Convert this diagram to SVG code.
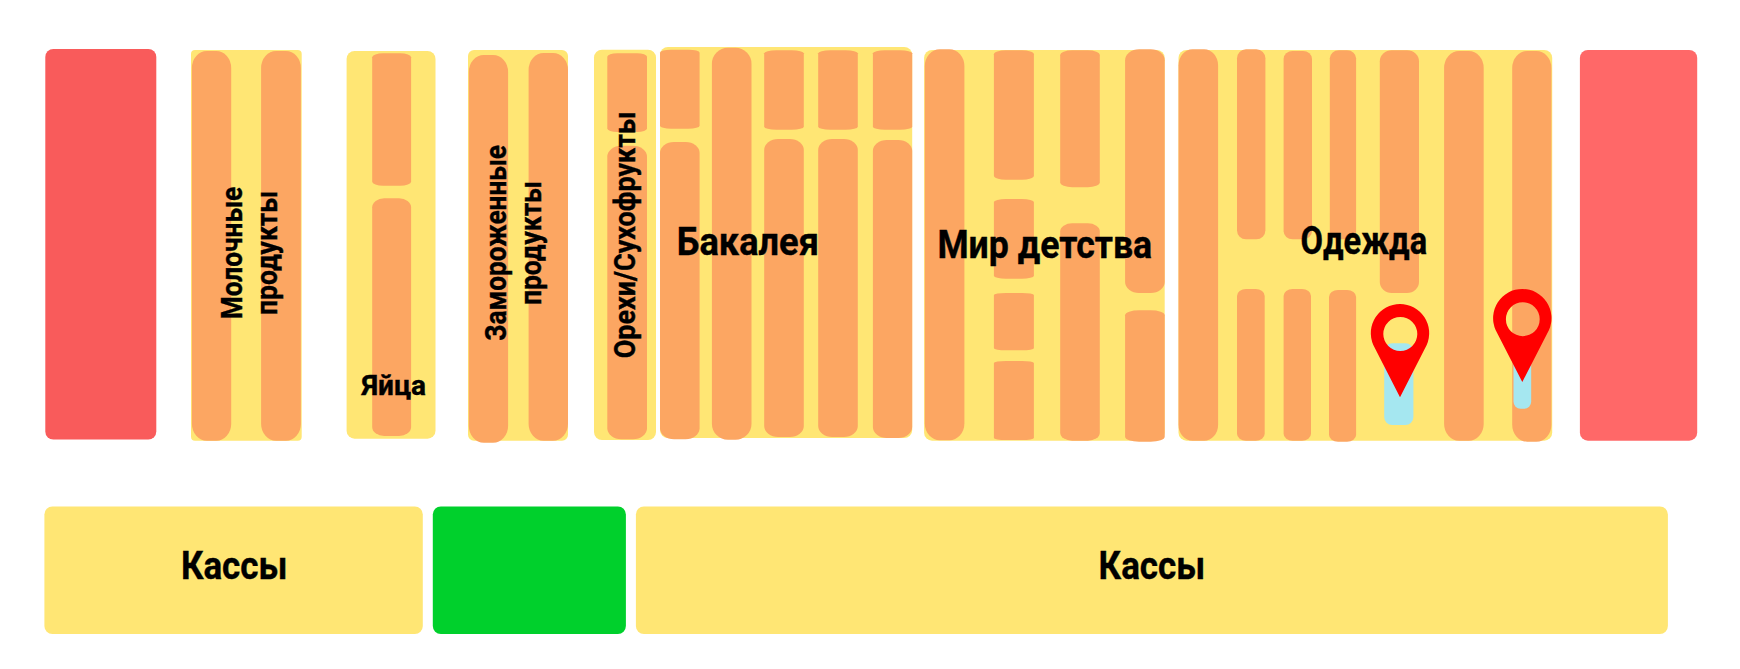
<svg xmlns="http://www.w3.org/2000/svg" width="1740" height="669" viewBox="0 0 1740 669">
<style>
.y{fill:#ffe674}
.o{fill:#fca662}
.b{fill:#a5e7f0}
.g{fill:#00d02c}
.pin{fill:#ff0000;fill-rule:evenodd}
text{font-family:"Roboto","Liberation Sans",sans-serif;font-weight:700;fill:#000;stroke:#000;stroke-width:.4px}
.s{font-size:30px}
.m{font-size:27px}
.l{font-size:38px}
</style>
<rect width="1740" height="669" fill="#fff"/>
<g id="wall-left"><rect x="45.3" y="49" width="111" height="390.5" rx="8" fill="#f95b5b"/></g>
<g id="dairy">
<rect class="y" x="191" y="50" width="110.7" height="390.7" rx="4"/>
<rect class="o" x="191.9" y="51" width="39.3" height="389.7" rx="15" ry="17"/>
<rect class="o" x="261.1" y="51" width="39.8" height="389.7" rx="15" ry="17"/>
<text class="s" transform="translate(242.3 319.3) rotate(-90)" textLength="132.6" lengthAdjust="spacingAndGlyphs">Молочные</text>
<text class="s" transform="translate(276.9 315) rotate(-90)" textLength="124.3" lengthAdjust="spacingAndGlyphs">продукты</text>
</g>
<g id="eggs">
<rect class="y" x="346.6" y="51" width="88.9" height="387.7" rx="8"/>
<rect class="o" x="372.2" y="53.3" width="38.9" height="132.4" rx="11" ry="4"/>
<rect class="o" x="372.2" y="198.3" width="38.9" height="237.7" rx="12" ry="9"/>
<text class="m" x="361.5" y="394.5" textLength="64.5" lengthAdjust="spacingAndGlyphs">Яйца</text>
</g>
<g id="frozen">
<rect class="y" x="468" y="50" width="100" height="390.7" rx="6"/>
<rect class="o" x="468.8" y="55" width="39.3" height="387.7" rx="15" ry="17"/>
<rect class="o" x="528.6" y="53" width="39.4" height="387.7" rx="15" ry="17"/>
<text class="s" transform="translate(506.4 340.7) rotate(-90)" textLength="195.7" lengthAdjust="spacingAndGlyphs">Замороженные</text>
<text class="s" transform="translate(541 305) rotate(-90)" textLength="124" lengthAdjust="spacingAndGlyphs">продукты</text>
</g>
<g id="nuts">
<rect class="y" x="594" y="49.7" width="62" height="390.3" rx="8"/>
<rect class="o" x="607.3" y="53.3" width="39.7" height="78.7" rx="10" ry="3.5"/>
<rect class="o" x="607.3" y="145.7" width="39.7" height="293.6" rx="14" ry="11"/>
<text class="s" transform="translate(635 358.3) rotate(-90)" textLength="246.6" lengthAdjust="spacingAndGlyphs">Орехи/Сухофрукты</text>
</g>
<g id="grocery">
<rect class="y" x="660" y="47" width="252.2" height="391" rx="8"/>
<rect class="o" x="660" y="49.7" width="39.6" height="79" rx="11" ry="3"/>
<rect class="o" x="660" y="142" width="39.6" height="297.3" rx="14" ry="11"/>
<rect class="o" x="711.9" y="47.7" width="39.6" height="392" rx="16" ry="16"/>
<rect class="o" x="764.2" y="50.3" width="39.6" height="79.4" rx="12" ry="3"/>
<rect class="o" x="764.2" y="139" width="39.6" height="298" rx="14" ry="11"/>
<rect class="o" x="818.2" y="50.3" width="39.6" height="79.4" rx="12" ry="3"/>
<rect class="o" x="818.2" y="139" width="39.6" height="298" rx="14" ry="11"/>
<rect class="o" x="872.9" y="50.3" width="39.3" height="79.4" rx="12" ry="3"/>
<rect class="o" x="872.9" y="140" width="39.3" height="298" rx="14" ry="11"/>
<text class="l" x="676.8" y="255" textLength="142.1" lengthAdjust="spacingAndGlyphs">Бакалея</text>
</g>
<g id="kids">
<rect class="y" x="924.1" y="50" width="240.6" height="390.7" rx="8"/>
<rect class="o" x="924.8" y="49.3" width="39.6" height="391" rx="15" ry="17"/>
<rect class="o" x="993.9" y="50.3" width="40" height="129.4" rx="12" ry="4"/>
<rect class="o" x="993.9" y="199" width="40" height="79.7" rx="12" ry="3"/>
<rect class="o" x="993.9" y="293" width="40" height="57.3" rx="12" ry="2"/>
<rect class="o" x="993.9" y="361" width="40" height="79" rx="12" ry="2"/>
<rect class="o" x="1060.2" y="50.3" width="39.6" height="137" rx="12" ry="5"/>
<rect class="o" x="1060.2" y="223.3" width="39.6" height="217.4" rx="12" ry="8"/>
<rect class="o" x="1125.1" y="49.3" width="39.6" height="243.7" rx="14" ry="11"/>
<rect class="o" x="1125.1" y="310.3" width="39.6" height="131.4" rx="14" ry="5"/>
<text class="l" x="937.4" y="257.7" textLength="214.7" lengthAdjust="spacingAndGlyphs">Мир детства</text>
</g>
<g id="clothes">
<rect class="y" x="1178.5" y="50" width="373.7" height="390.7" rx="8"/>
<rect class="o" x="1178.5" y="49.3" width="39.6" height="391.4" rx="14" ry="16"/>
<rect class="o" x="1237" y="49.3" width="28.4" height="190" rx="9" ry="9"/>
<rect class="o" x="1237" y="289" width="27.7" height="151.7" rx="9" ry="7"/>
<rect class="o" x="1283.6" y="51" width="28.4" height="188.3" rx="9" ry="8"/>
<rect class="o" x="1283.6" y="289" width="27.4" height="151.7" rx="9" ry="7"/>
<rect class="o" x="1329.8" y="50.3" width="26.3" height="189" rx="9" ry="8"/>
<rect class="o" x="1329" y="290" width="27.1" height="151.7" rx="9" ry="7"/>
<rect class="o" x="1379.8" y="50.3" width="39.2" height="242.7" rx="12" ry="11"/>
<rect class="o" x="1444.1" y="51" width="39.6" height="389.7" rx="15" ry="17"/>
<rect class="o" x="1512.2" y="51" width="39.2" height="390.7" rx="15" ry="17"/>
<rect class="b" x="1384.2" y="343.3" width="29.2" height="81.7" rx="8"/>
<rect class="b" x="1513.5" y="345" width="17.7" height="63.7" rx="7"/>
<text class="l" x="1300.6" y="254.3" textLength="126.5" lengthAdjust="spacingAndGlyphs">Одежда</text>
</g>
<g id="pin-1"><path class="pin" d="M1400 397.3L1373.3 345A29.2 29.2 0 1 1 1426.7 345ZM1417.3 334A17 17 0 1 0 1383.3 334A17 17 0 1 0 1417.3 334Z"/></g>
<g id="pin-2"><path class="pin" d="M1522.3 382L1495.6 330A29.2 29.2 0 1 1 1549 330ZM1539.7 319.2A16.9 16.9 0 1 0 1505.9 319.2A16.9 16.9 0 1 0 1539.7 319.2Z"/></g>
<g id="wall-right"><rect x="1579.9" y="50" width="117.3" height="390.7" rx="8" fill="#ff6868"/></g>
<g id="checkout-left">
<rect class="y" x="44.4" y="506.5" width="378.4" height="127.5" rx="8"/>
<text class="l" x="180.9" y="579" textLength="106.5" lengthAdjust="spacingAndGlyphs">Кассы</text>
</g>
<g id="exit"><rect class="g" x="432.8" y="506.5" width="193.1" height="127.5" rx="8"/></g>
<g id="checkout-right">
<rect class="y" x="635.9" y="506.5" width="1032" height="127.5" rx="8"/>
<text class="l" x="1098.6" y="579" textLength="106.5" lengthAdjust="spacingAndGlyphs">Кассы</text>
</g>
<g id="connectors"/>
</svg>
